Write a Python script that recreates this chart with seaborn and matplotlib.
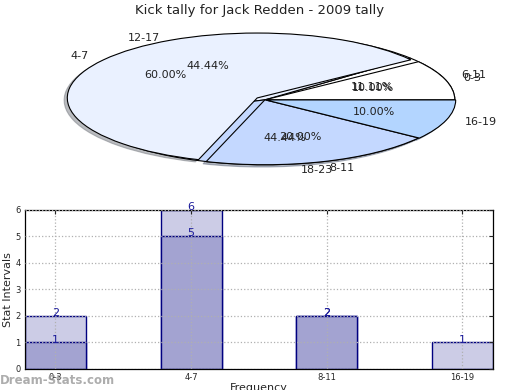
import matplotlib
matplotlib.use("Agg")
import matplotlib.pyplot as plt
import pandas as pd
import seaborn as sns

# pie 1 (bar categories)
pie1_labels = ['0-3', '4-7', '8-11', '16-19']
pie1_values = [1, 6, 2, 1]
pie1_colors = ['#ffffff', '#eaf1ff', '#c4d8ff', '#b3d5ff']

# pie 2 (hour ranges)
pie2_labels = ['6-11', '12-17', '18-23']
pie2_values = [1, 4, 4]
pie2_colors = ['#ffffff', '#eaf1ff', '#c4d8ff']

# bar data
categories = ['0-3', '4-7', '8-11', '16-19']
light_vals = [2, 6, 2, 1]
dark_cats = ['0-3', '4-7', '8-11']
dark_vals = [1, 5, 2]

sns.set_style('white')
plt.rcParams['font.family'] = ['DejaVu Sans']

fig = plt.figure(figsize=(5.2, 3.9), dpi=100)

# ---- pie chart ----
ax1 = fig.add_axes([0.0529, 0.536, 0.913, 0.416])
wp = dict(edgecolor='black', linewidth=0.8)
ax1.pie(pie2_values, labels=pie2_labels, colors=pie2_colors, autopct='%.2f%%',
        wedgeprops=wp, textprops=dict(fontsize=8, color='#222222'))
ax1.pie(pie1_values, labels=pie1_labels, colors=pie1_colors, autopct='%.2f%%',
        explode=[0, 0.05, 0, 0.005],
        shadow={'ox': -0.012, 'oy': -0.025, 'shade': 0.5},
        wedgeprops=wp, textprops=dict(fontsize=8, color='#222222'))
ax1.set_aspect('auto')
ax1.set_xlim(-1.25, 1.25)
ax1.set_ylim(-1.25, 1.25)
ax1.axis('off')
fig.text(0.5, 0.972, 'Kick tally for Jack Redden - 2009 tally', ha='center',
         va='center', fontsize=9.5, color='#222222')

# ---- bar chart ----
ax2 = fig.add_axes([0.048, 0.054, 0.9, 0.408])
df_light = pd.DataFrame({'cat': categories, 'val': light_vals})
df_dark = pd.DataFrame({'cat': dark_cats, 'val': dark_vals})
sns.barplot(data=df_light, x='cat', y='val', order=categories, width=0.45,
            color='#ccccE6', saturation=1, edgecolor='#000080', linewidth=1, ax=ax2)
sns.barplot(data=df_dark, x='cat', y='val', order=categories, width=0.45,
            color='#a3a3d1', saturation=1, edgecolor='#000080', linewidth=1, ax=ax2)

for i, v in enumerate(light_vals):
    ax2.text(i, v - 0.08, str(v), ha='center', va='bottom', fontsize=8, color='#1a1a9a')
for c, v in zip(dark_cats, dark_vals):
    ax2.text(categories.index(c), v - 0.08, str(v), ha='center', va='bottom', fontsize=8,
             color='#1a1a9a')

ax2.set_xlim(-0.225, 3.225)
ax2.set_ylim(0, 6)
ax2.set_yticks(range(0, 7))
ax2.tick_params(axis='both', labelsize=6, direction='in', length=3,
                top=True, right=True, pad=3)
ax2.grid(True, linestyle=':', color='#b0b0b0', linewidth=0.9)
ax2.set_axisbelow(False)
for s in ax2.spines.values():
    s.set_color('black')
    s.set_linewidth(0.9)
ax2.set_ylabel('Stat Intervals', fontsize=8, labelpad=2)
ax2.set_xlabel('Frequency', fontsize=8, labelpad=1)

fig.text(0.0, 0.025, 'Dream-Stats.com', fontsize=8.5, color='#999999',
         ha='left', va='center', fontweight='bold', alpha=0.8)

fig.savefig('out.png', dpi=100)
